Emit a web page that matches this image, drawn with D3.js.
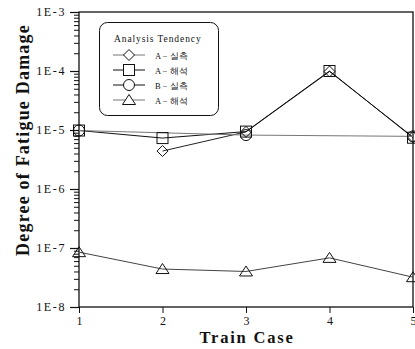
<!DOCTYPE html>
<html>
<head>
<meta charset="utf-8">
<script src="https://cdn.jsdelivr.net/npm/d3@7"></script>
<style>
  html, body { margin: 0; padding: 0; background: #fff; }
  svg { display: block; }
  text { font-family: "Liberation Serif", "DejaVu Serif", serif; fill: #111; }
</style>
</head>
<body>
<svg id="chart" width="415" height="349"></svg>
<script>
// Train cases on the x axis
const trainCases = [1, 2, 3, 4, 5];
const yTickValues = [1e-8, 1e-7, 1e-6, 1e-5, 1e-4, 1e-3];
const yTickLabels = ["1E-8", "1E-7", "1E-6", "1E-5", "1E-4", "1E-3"];

// Series (case, damage)
const aMeasuredCases = [2, 3, 4, 5];
const aMeasured = [4.4e-6, 9.3e-6, 9.8e-5, 7.6e-6];
const aAnalysisCases = [1, 2, 3, 4, 5];
const aAnalysis = [9.8e-6, 7.3e-6, 9.4e-6, 1.0e-4, 7.4e-6];
const bMeasuredCases = [1, 3, 5];
const bMeasured = [9.8e-6, 8.2e-6, 7.8e-6];
const aAnalysis2Cases = [1, 2, 3, 4, 5];
const aAnalysis2 = [8.5e-8, 4.4e-8, 4.0e-8, 6.8e-8, 3.2e-8];

const legendTitle = "Analysis Tendency";
const legendLabels = ["A − 실측", "A − 해석", "B − 실측", "A − 해석"];

const svg = d3.select("#chart");
const plotL = 79, plotR = 413, plotT = 12, plotB = 307;

const x = d3.scaleLinear().domain([1, 5]).range([plotL, plotR]);
const y = d3.scaleLog().domain([1e-8, 1e-3]).range([plotB, plotT]);

// Minor ticks on the log axis
const minor = [];
for (let e = -8; e < -3; e++) for (let m = 2; m <= 9; m++) minor.push(m * Math.pow(10, e));

const yAxisMinor = d3.axisLeft(y).tickValues(minor).tickSize(5).tickFormat("");
svg.append("g").attr("transform", `translate(${plotL},0)`).call(yAxisMinor)
  .call(g => g.select(".domain").remove())
  .selectAll("line").attr("stroke", "#111");

const yAxis = d3.axisLeft(y).tickValues(yTickValues).tickSize(9)
  .tickFormat((d, i) => yTickLabels[i]);
svg.append("g").attr("transform", `translate(${plotL},0)`).call(yAxis)
  .call(g => g.select(".domain").remove())
  .call(g => g.selectAll("line").attr("stroke", "#111").attr("stroke-width", 1.2))
  .call(g => g.selectAll("text").attr("font-size", 12).attr("letter-spacing", 1.6)
    .attr("font-family", "Liberation Serif, serif").attr("fill", "#111").attr("x", -13));

const xAxis = d3.axisBottom(x).tickValues(trainCases).tickSize(6).tickFormat(d3.format("d"));
svg.append("g").attr("transform", `translate(0,${plotB})`).call(xAxis)
  .call(g => g.select(".domain").remove())
  .call(g => g.selectAll("line").attr("stroke", "#111"))
  .call(g => g.selectAll("text").attr("font-size", 12)
    .attr("font-family", "Liberation Serif, serif").attr("fill", "#111"));

// Plot frame
svg.append("rect").attr("x", plotL).attr("y", plotT)
  .attr("width", plotR - plotL).attr("height", plotB - plotT)
  .attr("fill", "none").attr("stroke", "#111").attr("stroke-width", 1.3);

// Axis titles
svg.append("text").attr("x", 247).attr("y", 343).attr("text-anchor", "middle")
  .attr("font-size", 16.5).attr("font-weight", "bold").attr("letter-spacing", 1.8)
  .text("Train Case");
svg.append("text").attr("transform", "translate(29,140) rotate(-90)")
  .attr("text-anchor", "middle").attr("font-size", 18).attr("font-weight", "bold")
  .attr("letter-spacing", 1.2).text("Degree of Fatigue Damage");

// Marker shapes
function marker(g, kind, cx, cy) {
  const s = 5.5;
  if (kind === "diamond") {
    g.append("path").attr("d", `M${cx},${cy - s}L${cx + s},${cy}L${cx},${cy + s}L${cx - s},${cy}Z`);
  } else if (kind === "square") {
    g.append("rect").attr("x", cx - s).attr("y", cy - s).attr("width", 2 * s).attr("height", 2 * s);
  } else if (kind === "circle") {
    g.append("circle").attr("cx", cx).attr("cy", cy).attr("r", s);
  } else {
    g.append("path").attr("d", `M${cx},${cy - s}L${cx + s + 1},${cy + s - 1}L${cx - s - 1},${cy + s - 1}Z`);
  }
}

const series = [
  { cases: aMeasuredCases, vals: aMeasured, kind: "diamond", color: "#222" },
  { cases: aAnalysisCases, vals: aAnalysis, kind: "square", color: "#111" },
  { cases: bMeasuredCases, vals: bMeasured, kind: "circle", color: "#777" },
  { cases: aAnalysis2Cases, vals: aAnalysis2, kind: "triangle", color: "#444" }
];

const line = d3.line().x(d => x(d[0])).y(d => y(d[1]));
series.forEach(s => {
  const pts = s.cases.map((c, i) => [c, s.vals[i]]);
  svg.append("path").datum(pts).attr("d", line)
    .attr("fill", "none").attr("stroke", s.color).attr("stroke-width", 1);
});
series.forEach(s => {
  const g = svg.append("g").attr("fill", "none").attr("stroke", "#111").attr("stroke-width", 1);
  s.cases.forEach((c, i) => marker(g, s.kind, x(c), y(s.vals[i])));
});

// Legend
const lg = svg.append("g");
lg.append("rect").attr("x", 99.5).attr("y", 22.5).attr("width", 119).attr("height", 93)
  .attr("rx", 8).attr("fill", "#fff").attr("stroke", "#111").attr("stroke-width", 1);
lg.append("text").attr("x", 114).attr("y", 42).attr("font-size", 9.5).attr("letter-spacing", 0.9)
  .text(legendTitle);
const rowsY = [55, 70, 85, 100];
series.forEach((s, i) => {
  const yy = rowsY[i];
  lg.append("line").attr("x1", 113).attr("x2", 145).attr("y1", yy).attr("y2", yy)
    .attr("stroke", i === 0 || i === 3 ? "#777" : "#111").attr("stroke-width", 1);
  const g = lg.append("g").attr("fill", "#fff").attr("stroke", "#111").attr("stroke-width", 1);
  marker(g, s.kind, 129, yy);
  lg.append("text").attr("x", 155).attr("y", yy + 3.5).attr("font-size", 8.5)
    .attr("font-family", "Noto Sans CJK KR, sans-serif").text(legendLabels[i]);
});
</script>
</body>
</html>
